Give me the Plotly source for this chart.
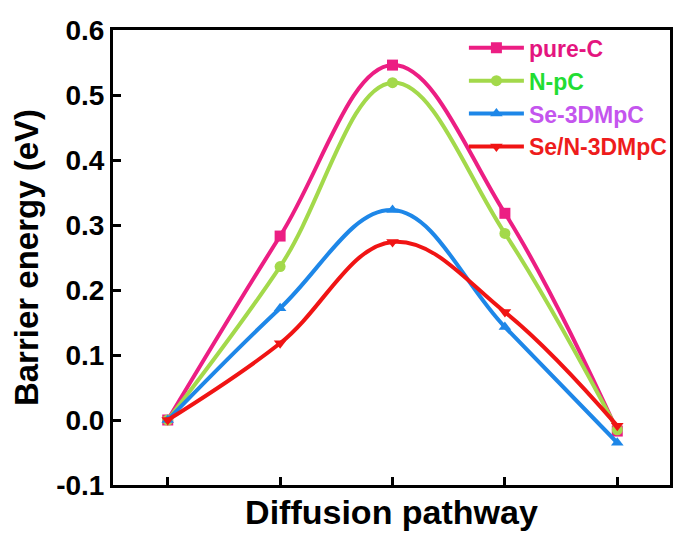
import plotly.graph_objects as go

# Diffusion pathway positions and barrier energies (eV)
steps = [1, 2, 3, 4, 5]
series_names = ["pure-C", "N-pC", "Se-3DMpC", "Se/N-3DMpC"]
pure_c = [0.0, 0.283, 0.546, 0.318, -0.017]
n_pc = [0.0, 0.236, 0.519, 0.287, -0.015]
se_3dmpc = [0.0, 0.172, 0.323, 0.143, -0.035]
se_n_3dmpc = [0.0, 0.118, 0.274, 0.166, -0.009]
y_ticks = [-0.1, 0.0, 0.1, 0.2, 0.3, 0.4, 0.5, 0.6]

line_colors = ["#EC1E83", "#A3D94B", "#1E87E8", "#F01414"]
label_colors = ["#E4157F", "#22DD33", "#C455EE", "#EE1C1C"]
symbols = ["square", "circle", "triangle-up", "triangle-down"]
values = [pure_c, n_pc, se_3dmpc, se_n_3dmpc]

FONT = "Arial, 'Liberation Sans', sans-serif"

fig = go.Figure()
for name, vals, lc, tc, sym in zip(series_names, values, line_colors, label_colors, symbols):
    fig.add_trace(go.Scatter(
        x=steps, y=vals,
        mode="lines+markers",
        name=f"<span style='color:{tc}'>{name}</span>",
        line=dict(color=lc, width=4, shape="spline", smoothing=1.1),
        marker=dict(symbol=sym, size=11, color=lc, line=dict(width=0)),
    ))

axis_common = dict(
    showline=True, linecolor="black", linewidth=3, mirror=True,
    ticks="inside", ticklen=8, tickwidth=3, tickcolor="black",
    showgrid=False, zeroline=False,
)

fig.update_layout(
    width=676, height=536,
    margin=dict(l=113, r=3, t=30, b=51),
    paper_bgcolor="white", plot_bgcolor="white",
    font=dict(family=FONT, color="black"),
    xaxis=dict(
        range=[0.513, 5.469], tickvals=steps, showticklabels=False,
        title=dict(text="Diffusion pathway", standoff=14,
                   font=dict(size=34, weight="bold", family=FONT)),
        **axis_common,
    ),
    yaxis=dict(
        range=[-0.1, 0.6], tickvals=y_ticks,
        ticktext=[f"{v:.1f}" for v in y_ticks],
        tickfont=dict(size=28, weight="bold", family=FONT),
        title=dict(text="Barrier energy (eV)", standoff=8,
                   font=dict(size=33, weight="bold", family=FONT)),
        **axis_common,
    ),
    legend=dict(
        x=0.63, y=1.008, xanchor="left", yanchor="top",
        bgcolor="rgba(0,0,0,0)", borderwidth=0,
        font=dict(size=23, weight="bold", family=FONT),
        itemwidth=55, tracegroupgap=0,
    ),
    showlegend=True,
)

fig.write_html("out.html")
